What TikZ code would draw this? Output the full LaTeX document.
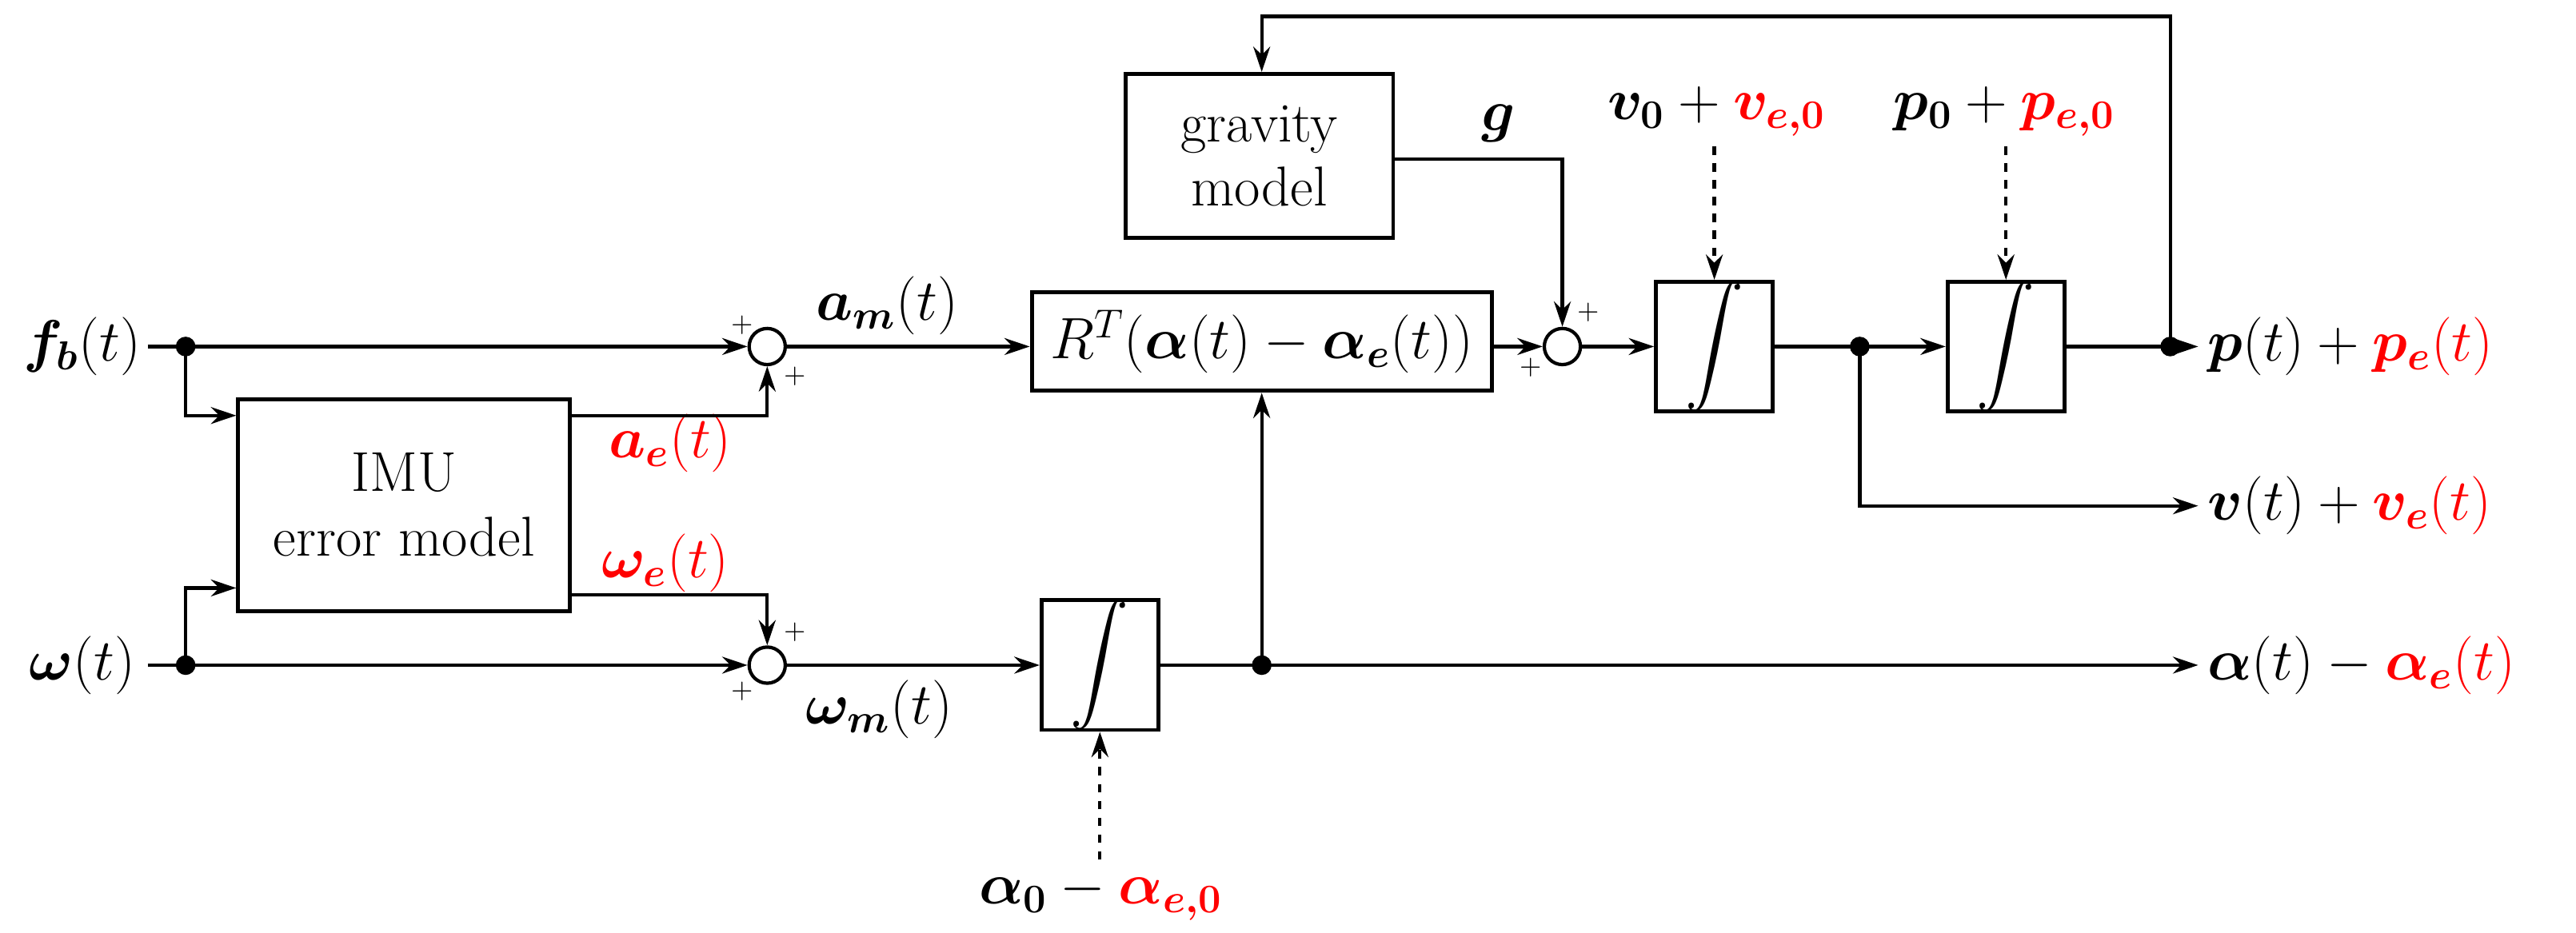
\documentclass[tikz,border=0pt]{standalone}
\usepackage{amsmath,bm}
\usetikzlibrary{arrows.meta}
\begin{document}
\begin{tikzpicture}[x=0.02054cm,y=-0.02054cm,
  every node/.style={font=\fontsize{20}{23}\selectfont},
  blk/.style={draw,line width=1.4pt,minimum width=0,inner sep=0},
  sum/.style={draw,circle,line width=1.2pt,minimum size=22*0.02054cm,inner sep=0},
  ln/.style={line width=1.2pt},
  ar/.style={ln,-{Stealth[length=9pt,width=6pt]}},
  da/.style={ar,dashed},
  dot/.style={circle,fill,inner sep=0,minimum size=7pt},
  pl/.style={font=\fontsize{10}{10}\selectfont,inner sep=0}]
\useasboundingbox (0,0) rectangle (1568,568);
% blocks
\node[blk,minimum width=202*0.02054cm,minimum height=129*0.02054cm,align=center] (imu) at (246,307.5) {IMU\\error model};
\node[blk,minimum width=280*0.02054cm,minimum height=60*0.02054cm] (R) at (768,208) {$R^T(\bm{\alpha}(t)-\bm{\alpha_e}(t))$};
\node[blk,minimum width=71*0.02054cm,minimum height=70*0.02054cm] (i1) at (669.5,405) {$\displaystyle\int$};
\node[blk,minimum width=71*0.02054cm,minimum height=70*0.02054cm] (i2) at (1043.5,211) {$\displaystyle\int$};
\node[blk,minimum width=71*0.02054cm,minimum height=70*0.02054cm] (i3) at (1221,211) {$\displaystyle\int$};
\node[blk,minimum width=163*0.02054cm,minimum height=100*0.02054cm,align=center] (g) at (766.5,95) {gravity\\model};
\node[sum] (s1) at (467,211) {};
\node[sum] (s2) at (467,405) {};
\node[sum] (s3) at (951,211) {};
% labels
\node (fb) at (50,211) {$\bm{f_b}(t)$};
\node (w) at (50,405) {$\bm{\omega}(t)$};
\node at (540,186) {$\bm{a_m}(t)$};
\node at (535,432) {$\bm{\omega_m}(t)$};
\node[red] at (408,270) {$\bm{a_e}(t)$};
\node[red] at (405,343) {$\bm{\omega_e}(t)$};
\node (a0) at (670,545) {$\bm{\alpha_0}-{\color{red}\bm{\alpha_{e,0}}}$};
\node (v0) at (1045,68) {$\bm{v_0}+{\color{red}\bm{v_{e,0}}}$};
\node (p0) at (1220,68) {$\bm{p_0}+{\color{red}\bm{p_{e,0}}}$};
\node at (912,75) {$\bm{g}$};
\node[anchor=west,inner sep=2pt] at (1340,211) {$\bm{p}(t)+{\color{red}\bm{p_e}(t)}$};
\node[anchor=west,inner sep=2pt] at (1340,308) {$\bm{v}(t)+{\color{red}\bm{v_e}(t)}$};
\node[anchor=west,inner sep=2pt] at (1340,405) {$\bm{\alpha}(t)-{\color{red}\bm{\alpha_e}(t)}$};
% plus signs
\node[pl] at (452,198) {+}; \node[pl] at (484,229) {+};
\node[pl] at (484,385) {+}; \node[pl] at (452,421) {+};
\node[pl] at (967,190) {+}; \node[pl] at (932,224) {+};
% coordinates
\coordinate (d1) at (113,211); \coordinate (d2) at (113,405);
\coordinate (d3) at (768,405); \coordinate (d4) at (1132,211);
\coordinate (d5) at (1321,211);
\node[dot] at (d1) {}; \node[dot] at (d2) {}; \node[dot] at (d3) {};
\node[dot] at (d4) {}; \node[dot] at (d5) {};
% connectors
\draw[ar] (90,211) -- (s1.west);
\draw[ar] (d1) |- (imu.west|-0,253);
\draw[ar] (90,405) -- (s2.west);
\draw[ar] (d2) |- (imu.west|-0,358);
\draw[ar] (imu.east|-0,253) -| (s1.south);
\draw[ar] (imu.east|-0,362) -| (s2.north);
\draw[ar] (s1.east) -- (R.west|-s1);
\draw[ar] (s2.east) -- (i1.west);
\draw[ar] (i1.east) -- (1338,405);
\draw[ar] (d3) -- (R.south-|d3);
\draw[da] (a0.north-|i1) -- (i1.south);
\draw[ar] (R.east|-s3) -- (s3.west);
\draw[ar] (g.east|-0,97) -| (s3.north);
\draw[ar] (s3.east) -- (i2.west);
\draw[ar] (i2.east) -- (i3.west);
\draw[ar] (d4) |- (1338,308);
\draw[ar] (i3.east) -- (1338,211);
\draw[ar] (d5) |- (768,10) -- (g.north-|768,0);
\draw[da] (v0.south-|i2) -- (i2.north);
\draw[da] (p0.south-|i3) -- (i3.north);
\end{tikzpicture}
\end{document}
